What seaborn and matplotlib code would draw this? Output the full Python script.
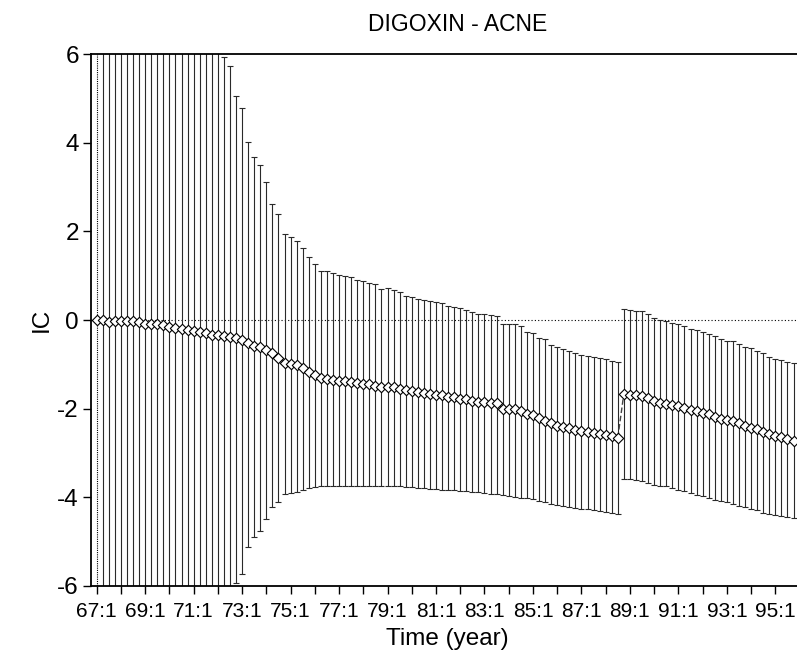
import numpy as np
import pandas as pd
import matplotlib
matplotlib.use("Agg")
import matplotlib.pyplot as plt
import seaborn as sns

# ---------------- data ----------------
years = list(range(67, 97))
quarters = [1, 2, 3, 4]
periods = [f"{y}:{q}" for y in years for q in quarters]
tick_labels = ["67:1", "69:1", "71:1", "73:1", "75:1", "77:1", "79:1",
               "81:1", "83:1", "85:1", "87:1", "89:1", "91:1", "93:1", "95:1"]
y_ticks = [-6, -4, -2, 0, 2, 4, 6]

ic = [0.00, -0.01, -0.04, -0.03, -0.02, -0.02, -0.03, -0.05, -0.08, -0.09,
      -0.08, -0.11, -0.15, -0.18, -0.20, -0.22, -0.24, -0.27, -0.29, -0.33,
      -0.35, -0.37, -0.38, -0.41, -0.46, -0.53, -0.58, -0.62, -0.68, -0.75,
      -0.85, -0.96, -0.99, -1.02, -1.09, -1.17, -1.24, -1.32, -1.33, -1.35,
      -1.37, -1.38, -1.40, -1.42, -1.44, -1.45, -1.48, -1.51, -1.51, -1.52,
      -1.55, -1.59, -1.61, -1.63, -1.65, -1.67, -1.69, -1.70, -1.73, -1.75,
      -1.78, -1.79, -1.83, -1.85, -1.86, -1.87, -1.88, -2.00, -2.00, -2.02,
      -2.06, -2.13, -2.15, -2.22, -2.27, -2.33, -2.39, -2.42, -2.45, -2.48,
      -2.51, -2.54, -2.56, -2.57, -2.60, -2.63, -2.66, -1.66, -1.69, -1.70,
      -1.71, -1.77, -1.84, -1.87, -1.90, -1.93, -1.94, -1.98, -2.03, -2.06,
      -2.09, -2.12, -2.18, -2.24, -2.26, -2.28, -2.33, -2.39, -2.43, -2.47,
      -2.53, -2.57, -2.61, -2.65, -2.69, -2.73]

upper = [np.nan, 11.5, 11.0, 10.6, 10.2, 9.8, 9.5, 9.2, 8.9, 8.6,
         8.3, 8.0, 7.8, 7.6, 7.4, 7.1, 6.9, 6.7, 6.5, 6.3,
         6.1, 5.93, 5.74, 5.06, 4.78, 4.02, 3.68, 3.49, 3.11, 2.63,
         2.39, 1.94, 1.88, 1.79, 1.63, 1.43, 1.26, 1.11, 1.10, 1.07,
         1.02, 1.00, 0.96, 0.90, 0.87, 0.84, 0.81, 0.71, 0.72, 0.68,
         0.63, 0.54, 0.53, 0.47, 0.45, 0.42, 0.41, 0.38, 0.32, 0.29,
         0.26, 0.23, 0.17, 0.13, 0.14, 0.11, 0.08, -0.09, -0.08, -0.10,
         -0.14, -0.28, -0.29, -0.40, -0.43, -0.57, -0.62, -0.65, -0.69, -0.75,
         -0.78, -0.81, -0.84, -0.85, -0.87, -0.93, -0.95, 0.25, 0.23, 0.21,
         0.20, 0.13, 0.04, 0.00, -0.03, -0.07, -0.08, -0.14, -0.20, -0.23,
         -0.26, -0.31, -0.36, -0.42, -0.47, -0.48, -0.55, -0.61, -0.64, -0.70,
         -0.75, -0.84, -0.87, -0.91, -0.94, -0.98]

lower = [np.nan, -11.5, -11.0, -10.6, -10.2, -9.8, -9.5, -9.2, -8.9, -8.6,
         -8.3, -8.0, -7.8, -7.6, -7.4, -7.2, -7.0, -6.8, -6.6, -6.5,
         -6.4, -6.3, -6.1, -5.95, -5.73, -5.13, -4.89, -4.76, -4.50, -4.23,
         -4.10, -3.93, -3.91, -3.88, -3.84, -3.80, -3.78, -3.76, -3.76, -3.75,
         -3.75, -3.75, -3.75, -3.75, -3.75, -3.75, -3.75, -3.75, -3.75, -3.76,
         -3.76, -3.77, -3.78, -3.79, -3.80, -3.81, -3.82, -3.83, -3.84, -3.85,
         -3.86, -3.87, -3.88, -3.89, -3.91, -3.92, -3.94, -3.96, -3.98, -4.00,
         -4.02, -4.03, -4.05, -4.08, -4.12, -4.16, -4.18, -4.20, -4.22, -4.24,
         -4.26, -4.27, -4.29, -4.31, -4.33, -4.35, -4.38, -3.59, -3.60, -3.62,
         -3.64, -3.69, -3.72, -3.74, -3.76, -3.80, -3.84, -3.86, -3.90, -3.95,
         -3.98, -4.02, -4.07, -4.09, -4.12, -4.15, -4.20, -4.23, -4.26, -4.30,
         -4.35, -4.38, -4.40, -4.43, -4.45, -4.48]

break_at = 87  # first quarter after the jump (88:4)

# ---------------- frame ----------------
n = len(ic)
df = pd.DataFrame({
    "t": np.arange(n),
    "period": periods[:n],
    "ic": ic,
    "hi": upper,
    "lo": lower,
})
df["seg"] = np.where(df["t"] < break_at, 0, 1)

# ---------------- style ----------------
sns.set_style("ticks")
plt.rcParams["font.family"] = ["Liberation Sans", "DejaVu Sans"]
plt.rcParams["axes.unicode_minus"] = False

fig = plt.figure(figsize=(7.97, 6.60), dpi=100)
ax = fig.add_axes([0.1138, 0.1126, 0.894, 0.8051])

# error bars
eb = df.dropna(subset=["hi", "lo"])
ax.errorbar(eb["t"], eb["ic"],
            yerr=[eb["ic"] - eb["lo"], eb["hi"] - eb["ic"]],
            fmt="none", ecolor="#2a2a2a", elinewidth=0.8,
            capsize=2.4, capthick=0.8, zorder=2)
# first quarter: dotted marker line
ax.axvline(df["t"].iloc[0], color="black", lw=0.8, ls=(0, (1, 1)), zorder=2)

# zero reference line
ax.axhline(0, color="black", lw=0.8, ls=(0, (1, 2)), zorder=1)

# connecting lines and markers
sns.lineplot(data=df, x="t", y="ic", units="seg", estimator=None,
             color="#444444", lw=0.8, ax=ax, zorder=3)
pre = df[df["t"] == break_at - 1]
post = df[df["t"] == break_at]
ax.plot([pre["t"].iloc[0], post["t"].iloc[0]],
        [pre["ic"].iloc[0], post["ic"].iloc[0]],
        color="#444444", lw=1.0, ls=(0, (4, 2)), zorder=3)
sns.scatterplot(data=df, x="t", y="ic", marker="D", s=28,
                facecolor="white", edgecolor="black", linewidth=0.8,
                ax=ax, zorder=4)

# axes
ax.set_xlim(-0.99, 116.6)
ax.set_ylim(-6, 6)
ax.set_yticks(y_ticks)
ax.set_yticklabels([str(v) for v in y_ticks])
ax.set_xticks(np.arange(0, n + 4, 4))
lab_map = {periods.index(l): l for l in tick_labels}
ax.set_xticklabels([lab_map.get(int(v), "") for v in np.arange(0, n + 4, 4)])

ax.tick_params(axis="y", labelsize=17.5, length=5.5, width=1.0, direction="out",
               color="black", labelcolor="black", pad=3)
ax.tick_params(axis="x", labelsize=15, length=5.5, width=1.0, direction="out",
               color="black", labelcolor="black", pad=6)

for s in ["left", "bottom", "top"]:
    ax.spines[s].set_color("black")
    ax.spines[s].set_linewidth(1.3)
ax.spines["right"].set_visible(False)

ax.set_xlabel("Time (year)", fontsize=17.5, color="black", labelpad=5)
ax.set_ylabel("IC", fontsize=17.5, color="black", labelpad=3)
ax.set_title("DIGOXIN - ACNE", fontsize=16.5, color="black", pad=17, x=0.515)

fig.savefig("out.png", dpi=100)
